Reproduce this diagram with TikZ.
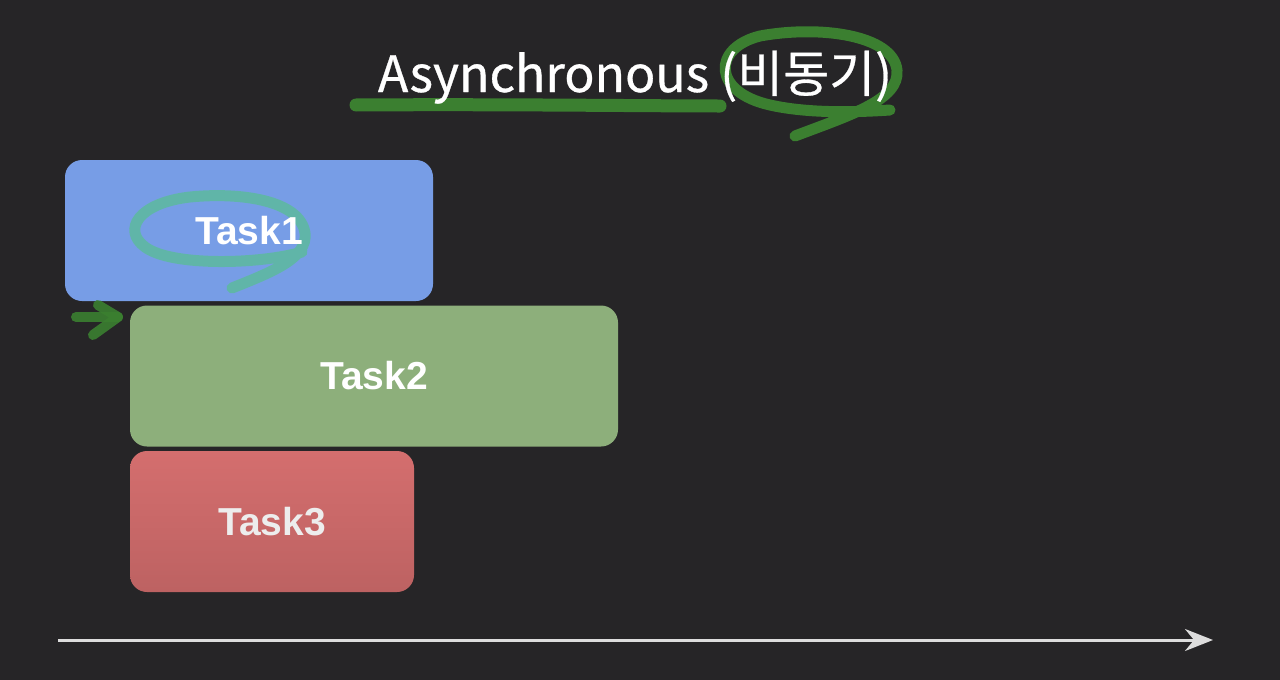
\documentclass[tikz,border=0pt]{standalone}
\usepackage{fontspec}
\setmainfont{Liberation Sans}
\newfontfamily\krfont[FakeBold=0.6]{Noto Sans CJK KR}
\usetikzlibrary{arrows.meta}
\definecolor{bg}{HTML}{262527}
\definecolor{tblue}{HTML}{779DE6}
\definecolor{tgreen}{HTML}{8DAF7B}
\definecolor{tredtop}{HTML}{D46E6E}
\definecolor{tredbot}{HTML}{BD6262}
\definecolor{pen}{HTML}{3B7F30}
\definecolor{mint}{HTML}{5DBA9E}
\definecolor{axis}{HTML}{DDDDDD}
\tikzset{
  taskbox/.style={rounded corners=17pt, minimum height=141pt, inner sep=0pt,
    font=\fontsize{39}{41}\selectfont\bfseries, text=white},
  penline/.style={line cap=round, line join=round, line width=12pt, draw=pen},
}
\begin{document}
\begin{tikzpicture}[x=1pt,y=-1pt]
\fill[bg] (0,0) rectangle (1280,680);
\useasboundingbox (0,0) rectangle (1280,680);
% boxes
\node[taskbox, fill=tblue, minimum width=368pt] (t1) at (249,230.5) {};
\node[taskbox, fill=tgreen, minimum width=488pt] (t2) at (374,376) {Task2};
\node[taskbox, minimum width=284pt, top color=tredtop, bottom color=tredbot, text=white!93!black] (t3) at (272,521.5) {Task3};
% underline
\draw[penline, line width=13pt] (356,105) .. controls (500,104) and (650,106) .. (720,106);
% circle around korean
\draw[penline, line width=11pt] (795,136) .. controls (850,115) and (900,100) .. (897,70)
  .. controls (893,35) and (820,25) .. (760,36)
  .. controls (712,48) and (712,92) .. (770,105)
  .. controls (810,114) and (860,112) .. (890,110);
% task1 circle
\draw[line cap=round, line width=11pt, draw=mint, opacity=0.85] (232,288) .. controls (272,272) and (308,258) .. (305,233)
  .. controls (300,200) and (240,192) .. (190,197)
  .. controls (138,203) and (122,230) .. (145,247)
  .. controls (172,267) and (262,264) .. (302,252);
% labels on top
\node[taskbox, draw=none, fill=none, minimum width=368pt] (t1l) at (t1.center) {Task1};
\node[text=white, font=\krfont\fontsize{50}{54}\selectfont, anchor=base] (title) at (635,92) {Asynchronous (비동기)};
% small arrow
\coordinate (a0) at (76,317);
\coordinate (a1) at (118,317);
\draw[penline, line width=10pt, opacity=0.9] (a0) -- (a1);
\draw[penline, line width=10pt, opacity=0.9] (98,305) -- (a1) -- (93,335);
% time axis
\coordinate (x0) at (58,640);
\coordinate (x1) at (1213,640);
\draw[axis, line width=3pt, -{Stealth[length=28pt, width=22pt, inset=9pt]}] (x0) -- (x1);
\end{tikzpicture}
\end{document}
